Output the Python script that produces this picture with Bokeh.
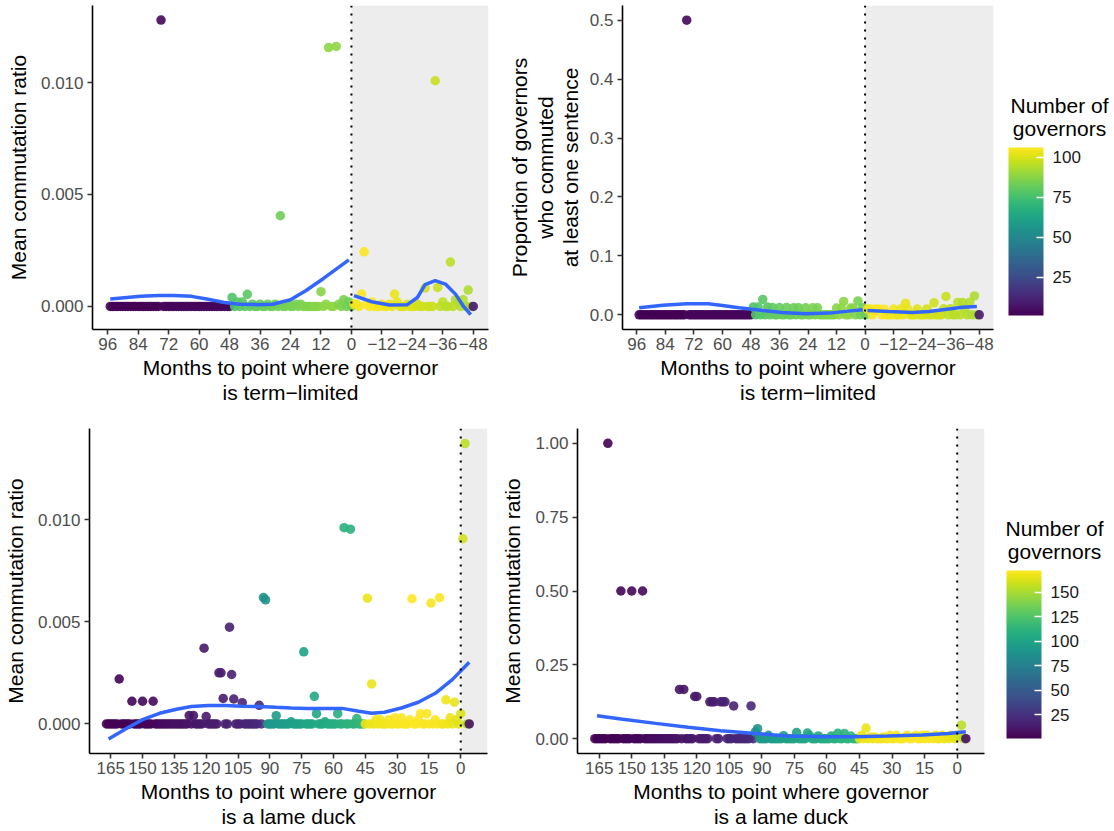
from bokeh.plotting import figure
from bokeh.models import (ColumnDataSource, LinearColorMapper, ColorBar, FixedTicker,
                          NumeralTickFormatter, Span, BoxAnnotation, Range1d, Label)
from bokeh.palettes import Viridis256
from bokeh.layouts import row, column
from bokeh.embed import file_html
from bokeh.resources import INLINE

FONT = "Liberation Sans"
MINUS = "\u2212"

# ---------------- data: months to term limit (top row) ----------------
months_tl = [
    95, 94, 93, 92, 91, 90, 89, 88, 87, 86, 85, 84,
    83, 82, 81, 80, 79, 78, 77, 76, 75, 74, 73, 72,
    71, 70, 69, 68, 67, 66, 65, 64, 63, 62, 61, 60,
    59, 58, 57, 56, 55, 54, 53, 52, 51, 50, 49, 48,
    47, 46, 45, 44, 43, 42, 41, 40, 39, 38, 37, 36,
    35, 34, 33, 32, 31, 30, 29, 28, 27, 26, 25, 24,
    23, 22, 21, 20, 19, 18, 17, 16, 15, 14, 13, 12,
    11, 10, 9, 8, 7, 6, 5, 4, 3, 2, 1, 0,
    -1, -2, -3, -4, -5, -6, -7, -8, -9, -10, -11, -12,
    -13, -14, -15, -16, -17, -18, -19, -20, -21, -22, -23, -24,
    -25, -26, -27, -28, -29, -30, -31, -32, -33, -34, -35, -36,
    -37, -38, -39, -40, -41, -42, -43, -44, -45, -46, -47, -48,
]
governors_tl = [
    1, 1, 1, 1, 1, 1, 1, 1, 1, 1, 1, 1,
    1, 1, 1, 1, 1, 1, 1, 1, 3, 3, 3, 3,
    3, 3, 3, 3, 3, 3, 3, 3, 3, 3, 3, 3,
    3, 3, 3, 3, 3, 3, 3, 3, 3, 3, 3, 3,
    77, 77, 78, 78, 79, 79, 79, 80, 80, 80, 81, 81,
    81, 82, 82, 82, 83, 83, 83, 83, 84, 84, 84, 84,
    85, 85, 85, 85, 86, 86, 86, 86, 87, 87, 87, 87,
    88, 88, 88, 88, 88, 88, 87, 86, 85, 84, 83, 82,
    103, 104, 104, 105, 105, 106, 106, 106, 105, 105, 104, 104,
    104, 103, 103, 103, 102, 102, 102, 101, 101, 101, 100, 100,
    100, 99, 99, 99, 98, 98, 98, 98, 97, 97, 96, 96,
    95, 95, 95, 95, 94, 94, 94, 94, 93, 93, 92, 8,
]
ratio_tl = [
    0, 0, 0, 0, 0, 0, 0, 0, 0, 0, 0, 0,
    0, 0, 0, 0, 0, 0, 0, 0, 0.01279, 0, 0, 0,
    0, 0, 0, 0, 0, 0, 0, 0, 0, 0, 0, 0,
    0, 0, 0, 0, 0, 0, 0, 0, 0, 0, 0, 0,
    0.0004, 0, 0.0002, 0, 0.0002, 0, 0.00054, 0, 0.0001, 0, 0, 0.0001,
    0, 0, 0.0001, 0, 0, 0.0001, 0, 0.00405, 0, 0, 0.0001, 0,
    0, 0.0001, 0, 0.0001, 0, 0, 0, 0, 0, 0, 0, 0.00066,
    0, 0.0001, 0.01156, 0, 0, 0.01161, 0.0001, 0, 0.0003, 0, 0.0002, 0,
    0.0001, 0.0001, 0, 0.00055, 0.00244, 0.0001, 0, 0.0002, 0, 0, 0, 0.0001,
    0, 0, 0.0001, 0, 0.00055, 0.0002, 0, 0, 0, 0.0001, 0, 0,
    0, 0.0001, 0, 0, 0.00082, 0, 0, 0, 0.01008, 0.00085, 0, 0.0002,
    0, 0, 0.00198, 0, 0.0003, 0.0002, 0, 0.0003, 0, 0.00073, 0, 0,
]
prop_tl = [
    0, 0, 0, 0, 0, 0, 0, 0, 0, 0, 0, 0,
    0, 0, 0, 0, 0, 0, 0, 0, 0.5, 0, 0, 0,
    0, 0, 0, 0, 0, 0, 0, 0, 0, 0, 0, 0,
    0, 0, 0, 0, 0, 0, 0, 0, 0, 0, 0, 0,
    0.013, 0, 0.013, 0, 0.026, 0, 0.013, 0, 0.0125, 0, 0, 0.0123,
    0, 0, 0.0122, 0, 0, 0.012, 0, 0.012, 0, 0, 0.0119, 0,
    0, 0.0118, 0, 0.0118, 0, 0, 0, 0, 0, 0, 0, 0.0115,
    0, 0.0114, 0.0227, 0, 0, 0.0114, 0.0115, 0, 0.0235, 0, 0.012, 0,
    0.0097, 0.0096, 0, 0.0095, 0.0095, 0.0094, 0, 0.0095, 0, 0, 0, 0.0096,
    0, 0, 0.0097, 0, 0.0194, 0.0097, 0, 0, 0, 0.0098, 0, 0,
    0, 0.01, 0, 0, 0.0202, 0, 0, 0, 0.0102, 0.031, 0, 0.0104,
    0, 0, 0.021, 0, 0.021, 0.0106, 0, 0.0212, 0, 0.0319, 0, 0,
]
# loess smoothers (before / after the term limit)
smooth_ratio_pre_m = [95, 83, 76, 70, 63, 57, 50, 44, 37, 31, 24, 18, 11, 6, 1]
smooth_ratio_pre_v = [0.00033, 0.00045, 0.00049, 0.00049, 0.00045, 0.00033, 0.00018, 0.0001,
                      0.00008, 0.0001, 0.0003, 0.0007, 0.00125, 0.00167, 0.00208]
smooth_ratio_post_m = [-1, -8, -15, -22, -26, -29, -33, -37, -41, -44, -47]
smooth_ratio_post_v = [0.00048, 0.00021, 0.00006, 0.00008, 0.0004, 0.00097, 0.00115, 0.001,
                       0.00055, 0.00003, -0.00037]
smooth_prop_pre_m = [95, 85, 75, 66, 60, 53, 43, 35, 25, 15, 7, 1]
smooth_prop_pre_v = [0.0118, 0.0163, 0.0186, 0.0186, 0.0158, 0.0119, 0.0073, 0.0039, 0.0017,
                     0.0028, 0.0062, 0.0085]
smooth_prop_post_m = [-1, -10, -20, -27, -36, -41, -47]
smooth_prop_post_v = [0.0073, 0.0056, 0.0039, 0.0056, 0.0101, 0.0129, 0.014]

# ---------------- data: months to lame duck (bottom row) ----------------
months_ld = [
    167, 166, 165, 164, 163, 162, 161, 160, 159, 158, 157, 156,
    155, 154, 153, 152, 151, 150, 149, 148, 147, 146, 145, 144,
    143, 142, 141, 140, 139, 138, 137, 136, 135, 134, 133, 132,
    131, 130, 129, 128, 127, 126, 125, 124, 123, 122, 121, 120,
    119, 118, 117, 116, 115, 114, 113, 112, 111, 110, 109, 108,
    107, 106, 105, 104, 103, 102, 101, 100, 99, 98, 97, 96,
    95, 94, 93, 92, 91, 90, 89, 88, 87, 86, 85, 84,
    83, 82, 81, 80, 79, 78, 77, 76, 75, 74, 73, 72,
    71, 70, 69, 68, 67, 66, 65, 64, 63, 62, 61, 60,
    59, 58, 57, 56, 55, 54, 53, 52, 51, 50, 49, 48,
    47, 46, 45, 44, 43, 42, 41, 40, 39, 38, 37, 36,
    35, 34, 33, 32, 31, 30, 29, 28, 27, 26, 25, 24,
    23, 22, 21, 20, 19, 18, 17, 16, 15, 14, 13, 12,
    11, 10, 9, 8, 7, 6, 5, 4, 3, 2, 1, 0,
    -1, -2, -3, -4,
]
governors_ld = [
    1, 1, 1, 1, 1, 1, 2, 2, 2, 2, 2, 2,
    3, 3, 3, 3, 3, 4, 4, 4, 4, 4, 5, 5,
    5, 5, 6, 6, 6, 7, 7, 7, 8, 8, 8, 9,
    9, 9, 10, 10, 10, 11, 11, 11, 12, 12, 12, 13,
    13, 13, 14, 14, 14, 15, 15, 15, 16, 16, 16, 17,
    17, 17, 18, 18, 18, 19, 19, 19, 20, 20, 20, 21,
    21, 22, 86, 88, 90, 91, 92, 93, 94, 94, 95, 95,
    96, 96, 97, 97, 98, 98, 99, 99, 100, 100, 101, 101,
    102, 102, 103, 103, 104, 104, 105, 105, 106, 106, 107, 107,
    108, 108, 109, 109, 110, 110, 111, 111, 112, 112, 113, 113,
    114, 114, 166, 166, 167, 167, 167, 168, 168, 168, 168, 169,
    169, 169, 169, 170, 170, 170, 170, 171, 171, 171, 171, 172,
    172, 172, 172, 172, 172, 172, 171, 171, 171, 171, 170, 170,
    170, 170, 169, 169, 168, 168, 167, 167, 166, 165, 164, 163,
    160, 155, 150, 8,
]
ratio_ld = [
    0, 0, 0, 0, 0, 0, 0.0022, 0, 0, 0, 0, 0,
    0.00111, 0, 0, 0, 0, 0.00111, 0, 0, 0, 0, 0.00111, 0,
    0, 0, 0, 0, 0, 0, 0, 0, 0, 0, 0, 0,
    0, 0, 0, 0.00041, 0, 0.00041, 0, 0, 0, 0, 0.00371, 0.00036,
    0, 0, 0, 0, 0, 0.0025, 0.0025, 0.00125, 0, 0, 0.00474, 0.00242,
    0.00122, 0, 0, 0, 0.00104, 0, 0, 0, 0, 0, 0, 0,
    0.00091, 0, 0.00619, 0.00608, 0, 0, 0, 0, 0.0004, 0, 0, 0,
    0, 0, 0, 0.0001, 0, 0, 0, 0, 0, 0.00353, 0, 0,
    0, 0, 0.00135, 0.0005, 0, 0, 0, 0.0001, 0, 0, 0, 0,
    0, 0.0005, 0, 0, 0.00961, 0, 0, 0.00954, 0, 0, 0.00026, 0,
    0, 0, 0, 0.00616, 0, 0.00196, 0, 0.0002, 0, 0.0002, 0, 0,
    0, 0.0002, 0, 0, 0.0003, 0, 0, 0.0003, 0, 0, 0, 0.0002,
    0.00613, 0, 0, 0.0002, 0.0005, 0, 0, 0.0005, 0, 0.00592, 0, 0.0002,
    0, 0.00618, 0, 0, 0.00118, 0, 0.0003, 0, 0.00106, 0.0002, 0, 0.0005,
    0.00907, 0.01373, 0, 0,
]
prop_ld = [
    0, 0, 0, 0, 0, 0, 1.0, 0, 0, 0, 0, 0,
    0.5, 0, 0, 0, 0, 0.5, 0, 0, 0, 0, 0.5, 0,
    0, 0, 0, 0, 0, 0, 0, 0, 0, 0, 0, 0,
    0, 0, 0, 0.1667, 0, 0.1667, 0, 0, 0, 0, 0.1429, 0.1429,
    0, 0, 0, 0, 0, 0.125, 0.125, 0.125, 0, 0, 0.125, 0.125,
    0.125, 0, 0, 0, 0.1111, 0, 0, 0, 0, 0, 0, 0,
    0.1111, 0, 0.0233, 0.034, 0, 0, 0, 0, 0.0115, 0, 0, 0,
    0, 0, 0, 0.0104, 0, 0, 0, 0, 0, 0.0207, 0, 0,
    0, 0, 0.0194, 0.0097, 0, 0, 0, 0.0095, 0, 0, 0, 0,
    0, 0.0092, 0, 0, 0.0183, 0, 0, 0.018, 0, 0, 0.0089, 0,
    0, 0, 0, 0.012, 0, 0.036, 0, 0.006, 0, 0.006, 0, 0,
    0, 0.006, 0, 0, 0.0118, 0, 0, 0.0118, 0, 0, 0, 0.0058,
    0.0116, 0, 0, 0.0058, 0.0116, 0, 0, 0.0116, 0, 0.0117, 0, 0.0058,
    0, 0.0118, 0, 0, 0.0118, 0, 0.006, 0, 0.012, 0.006, 0, 0.012,
    0.0125, 0.046, 0, 0,
]
smooth_ld_ratio_m = [166, 158, 150, 142, 134, 127, 119, 111, 103, 95, 87, 80, 72, 64, 56, 48,
                     42, 36, 28, 20, 12, 4, -4]
smooth_ld_ratio_v = [-0.00074, -0.00025, 0.00021, 0.00052, 0.00072, 0.00085, 0.0009, 0.0009,
                     0.00086, 0.00085, 0.00081, 0.00078, 0.00076, 0.00076, 0.00076, 0.00062,
                     0.00052, 0.00057, 0.00078, 0.00106, 0.0015, 0.00217, 0.00302]
smooth_ld_prop_m = [166, 155, 139, 124, 109, 93, 78, 62, 47, 32, 16, 4, -4]
smooth_ld_prop_v = [0.078, 0.0668, 0.052, 0.0386, 0.027, 0.018, 0.009, 0.0068, 0.0068, 0.009,
                    0.0125, 0.018, 0.024]

xticks_tl = [96, 84, 72, 60, 48, 36, 24, 12, 0, -12, -24, -36, -48]
xticks_ld = [165, 150, 135, 120, 105, 90, 75, 60, 45, 30, 15, 0]
yticks_ratio = [0, 0.005, 0.010]
yticks_prop_tl = [0, 0.1, 0.2, 0.3, 0.4, 0.5]
yticks_prop_ld = [0, 0.25, 0.5, 0.75, 1.0]
legend_ticks_tl = [25, 50, 75, 100]
legend_ticks_ld = [25, 50, 75, 100, 125, 150]

mapper_tl = LinearColorMapper(palette=Viridis256, low=1, high=106)
mapper_ld = LinearColorMapper(palette=Viridis256, low=1, high=172)


def fmt_month(t):
    return (MINUS + str(-t)) if t < 0 else str(t)


def panel(months, vals, govs, mapper, xr, yr, xticks, yticks, yfmt, xlabel, ylabel,
          smooths, fw, fh, bl, br, bt, bb, ylab_standoff=8):
    p = figure(frame_width=fw, frame_height=fh, min_border_left=bl, min_border_right=br,
               min_border_top=bt, min_border_bottom=bb,
               x_range=Range1d(*xr), y_range=Range1d(*yr),
               output_backend="svg", toolbar_location=None)
    p.background_fill_color = "white"
    p.border_fill_color = "white"
    p.outline_line_color = None
    p.xgrid.visible = False
    p.ygrid.visible = False
    p.add_layout(BoxAnnotation(left=0, right=xr[1], fill_color="#EDEDED", fill_alpha=1.0,
                               line_color=None, level="underlay"))
    src = ColumnDataSource(dict(m=months, v=vals, n=govs))
    p.scatter("m", "v", source=src, size=9.5, line_color=None, fill_alpha=0.9,
              fill_color={"field": "n", "transform": mapper})
    for sm, sv in smooths:
        p.line(sm, sv, line_color="#3366FF", line_width=3.5)
    p.add_layout(Span(location=0, dimension="height", line_color="black", line_width=2,
                      line_dash="2 6"))
    for ax in (p.xaxis[0], p.yaxis[0]):
        ax.axis_line_color = "black"
        ax.axis_line_width = 1.6
        ax.major_tick_line_color = "#333333"
        ax.major_tick_line_width = 1.6
        ax.major_tick_out = 5
        ax.major_tick_in = 0
        ax.minor_tick_line_color = None
        ax.major_label_text_font = FONT
        ax.major_label_text_font_size = "17px"
        ax.major_label_text_color = "#4D4D4D"
        ax.axis_label_text_font = FONT
        ax.axis_label_text_font_size = "21px"
        ax.axis_label_text_font_style = "normal"
        ax.axis_label_text_color = "black"
        ax.axis_label_text_line_height = 1.1
    p.xaxis.ticker = FixedTicker(ticks=xticks)
    p.xaxis.major_label_overrides = {t: fmt_month(t) for t in xticks}
    p.xaxis.major_label_standoff = 3
    p.xaxis.axis_label_standoff = 3
    p.xaxis.axis_label = xlabel
    p.yaxis.ticker = FixedTicker(ticks=yticks)
    p.yaxis.formatter = NumeralTickFormatter(format=yfmt)
    p.yaxis.major_label_standoff = 4
    p.yaxis.axis_label_standoff = ylab_standoff
    p.yaxis.axis_label = ylabel
    return p


def legend_fig(mapper, ticks, fh, bar_x, bar_y, title_x, title_y1, title_y2):
    lf = figure(frame_width=119, frame_height=fh, min_border=0,
                x_range=Range1d(0, 1), y_range=Range1d(0, 1),
                x_axis_location=None, y_axis_location=None,
                output_backend="svg", toolbar_location=None)
    lf.outline_line_color = None
    lf.grid.visible = False
    cb = ColorBar(color_mapper=mapper, ticker=FixedTicker(ticks=ticks), width=35, height=168,
                  location=(bar_x, bar_y), padding=0, margin=0, bar_line_color=None,
                  major_tick_line_color="white", major_tick_line_width=1.3,
                  major_tick_in=7, major_tick_out=0, minor_tick_line_color=None,
                  major_label_text_font=FONT, major_label_text_font_size="17px",
                  major_label_text_color="#1A1A1A", label_standoff=9,
                  background_fill_alpha=0, border_line_color=None)
    lf.add_layout(cb, "center")
    for txt, yy in (("Number of", title_y1), ("governors", title_y2)):
        lf.add_layout(Label(x=title_x, y=yy, x_units="screen", y_units="screen", text=txt,
                            text_align="center", text_baseline="middle", text_font=FONT,
                            text_font_size="21px", text_color="black"))
    return lf


xl_tl = "Months to point where governor\nis term" + MINUS + "limited"
xl_ld = "Months to point where governor\nis a lame duck"

pA = panel(months_tl, ratio_tl, governors_tl, mapper_tl, (102, -54), (-0.00103, 0.01344),
           xticks_tl, yticks_ratio, "0.000", xl_tl, "Mean commutation ratio",
           [(smooth_ratio_pre_m, smooth_ratio_pre_v), (smooth_ratio_post_m, smooth_ratio_post_v)],
           396, 324, 92, 17, 5, 86)
pB = panel(months_tl, prop_tl, governors_tl, mapper_tl, (102, -54), (-0.025, 0.525),
           xticks_tl, yticks_prop_tl, "0.0", xl_tl,
           "Proportion of governors\nwho commuted\nat least one sentence",
           [(smooth_prop_pre_m, smooth_prop_pre_v), (smooth_prop_post_m, smooth_prop_post_v)],
           371, 324, 112, 7, 5, 86, ylab_standoff=5)
legB = legend_fig(mapper_tl, legend_ticks_tl, 415, 8, 105, 59, 315, 292)

pC = panel(months_ld, ratio_ld, governors_ld, mapper_ld, (175, -12.6), (-0.00145, 0.01447),
           xticks_ld, yticks_ratio, "0.000", xl_ld, "Mean commutation ratio",
           [(smooth_ld_ratio_m, smooth_ld_ratio_v)], 398, 325, 88, 8, 12, 79)
pD = panel(months_ld, prop_ld, governors_ld, mapper_ld, (175, -12.6), (-0.05, 1.05),
           xticks_ld, yticks_prop_ld, "0.00", xl_ld, "Mean commutation ratio",
           [(smooth_ld_prop_m, smooth_ld_prop_v)], 407, 325, 82, 12, 13, 78)
legD = legend_fig(mapper_ld, legend_ticks_ld, 416, 10, 106, 58, 316, 293)

layout = column(row(pA, pB, legB), row(pC, pD, legD))

open("out.html", "w").write(file_html(layout, INLINE))
